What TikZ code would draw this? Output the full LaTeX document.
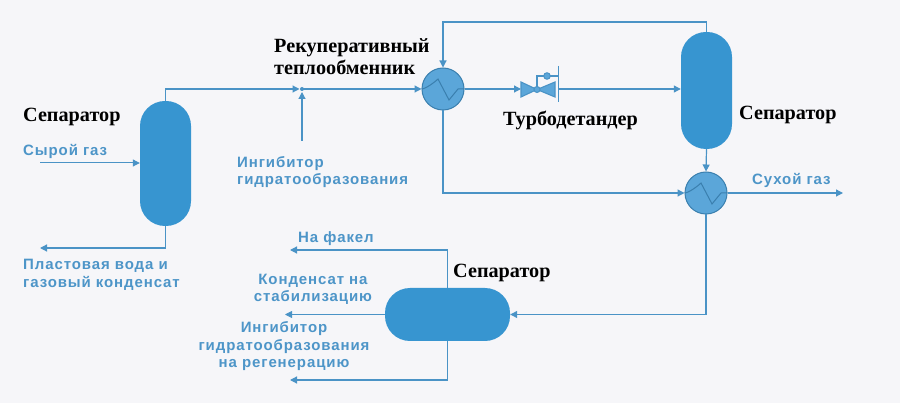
\documentclass[tikz,border=0pt]{standalone}
\usepackage{fontspec}
\setmainfont{Liberation Serif}
\newfontfamily\blfont[LetterSpace=6]{Liberation Sans}
\usetikzlibrary{arrows.meta,calc}
\definecolor{bgc}{HTML}{F6F6F9}
\definecolor{linec}{HTML}{4A93C6}
\definecolor{sepc}{HTML}{3795D0}
\definecolor{hxf}{HTML}{5BA6D9}
\definecolor{hxd}{HTML}{3A7FAE}
\definecolor{txtc}{HTML}{4D95C8}
\tikzset{
  x=1pt,y=-1pt,
  vessel/.style={fill=sepc,draw=none,rounded corners=25pt,inner sep=0pt},
  hx/.style={circle,fill=hxf,draw=hxd,line width=1pt,minimum size=42pt,inner sep=0pt},
  flow/.style={draw=linec,line width=1.2pt,-{Triangle[length=7pt,width=7pt]}},
  bluelabel/.style={text=txtc,font=\blfont\bfseries\fontsize{15}{17.5}\selectfont,align=center,inner sep=0pt},
  blacklabel/.style={text=black,font=\bfseries\fontsize{20.2}{22}\selectfont,align=left,inner sep=0pt},
  valvepart/.style={fill=hxf,draw=linec,line width=1.1pt},
}
\begin{document}
\begin{tikzpicture}
\path[fill=bgc] (0,0) rectangle (900,403);
\useasboundingbox (0,0) rectangle (900,403);
% vessels
\node[vessel,minimum width=51pt,minimum height=125pt] (sepL) at (165.5,163.5) {};
\node[vessel,minimum width=51pt,minimum height=117pt] (sepR) at (706.5,90.5) {};
\node[vessel,minimum width=125pt,minimum height=53pt] (sepB) at (447.5,314.5) {};
% heat exchangers
\node[hx] (hxA) at (443,89) {};
\node[hx] (hxB) at (706,193) {};
\draw[hxd,line width=1pt] (hxA.west) .. controls +(4,0) and +(-3,3) .. ($(hxA)+(-5,-10)$) -- ($(hxA)+(6,11)$) -- ($(hxA)+(15,0)$) -- (hxA.east);
\draw[hxd,line width=1pt] (hxB.west) .. controls +(4,0) and +(-3,3) .. ($(hxB)+(-5,-10)$) -- ($(hxB)+(6,11)$) -- ($(hxB)+(15,0)$) -- (hxB.east);
% free ends
\coordinate (rawIn) at (40,163);
\coordinate (waterOut) at (40,248);
\coordinate (mix) at (302,89);
\coordinate (inhIn) at (302,141);
\coordinate (topTurn) at (443,22);
\coordinate (dryOut) at (843,193);
\coordinate (flare) at (290,250);
\coordinate (cond) at (285,314.5);
\coordinate (inhOut) at (290,380);
\coordinate (valveL) at (521,89);
\coordinate (valveC) at (537,89.5);
\coordinate (valveR) at (558.5,89);
\coordinate (actr) at (547,76);
% flows
\draw[flow,line width=1pt] (rawIn) -- (rawIn -| sepL.west);
\draw[flow] (sepL.south) |- (waterOut);
\draw[flow,shorten >=2.5pt] (sepL.north) |- (mix);
\fill[linec] (mix) circle (2pt);
\draw[flow,shorten >=3pt] (inhIn) -- (mix);
\draw[flow] (mix) -- (hxA.west);
\draw[flow] (sepR.north) |- (topTurn) -- (hxA.north);
\draw[flow] (hxA.east) -- (valveL);
\draw[flow] (valveR) -- (valveR -| sepR.west);
\draw[flow] (hxA.south) |- (hxB.west);
\draw[flow] (sepR.south) -- (hxB.north);
\draw[flow] (hxB.east) -- (dryOut);
\draw[flow] (hxB.south) |- (sepB.east);
\draw[flow] (sepB.north) |- (flare);
\draw[flow,line width=.8pt] (sepB.west) -- (cond);
\draw[flow] (sepB.south) |- (inhOut);
% turboexpander
\draw[valvepart] (521,82) -- (521,97) -- (valveC) -- cycle;
\draw[valvepart] (555,82) -- (555,97) -- (valveC) -- cycle;
\draw[linec,line width=1.1pt] (valveC) -- (537,76) -- (actr) -- (558.5,76);
\node[circle,fill=hxf,draw=linec,line width=1pt,minimum size=6pt,inner sep=0pt] (valveBall) at (valveC) {};
\node[circle,fill=hxf,draw=linec,line width=1pt,minimum size=6.5pt,inner sep=0pt] (actBall) at (actr) {};
\draw[linec,line width=1.2pt] (558.5,66) -- (558.5,102);
% black labels
\node[blacklabel,anchor=west] (t1) at (23,117) {Сепаратор};
\node[blacklabel,anchor=west] (t2) at (274,56.5) {Рекуперативный\\теплообменник};
\node[blacklabel,anchor=west] (t3) at (503,120) {Турбодетандер};
\node[blacklabel,anchor=west] (t4) at (739,115) {Сепаратор};
\node[blacklabel,anchor=west] (t5) at (453,273) {Сепаратор};
% blue labels
\node[bluelabel,anchor=west] (b1) at (23,151.5) {Сырой газ};
\node[bluelabel,anchor=west,align=left] (b2) at (237,172) {Ингибитор\\гидратообразования};
\node[bluelabel,anchor=west,align=left] (b3) at (23,275) {Пластовая вода и\\газовый конденсат};
\node[bluelabel,anchor=west] (b4) at (752,180.5) {Сухой газ};
\node[bluelabel,anchor=west] (b5) at (298,238.5) {На факел};
\node[bluelabel] (b6) at (313,289.5) {Конденсат на\\стабилизацию};
\node[bluelabel] (b7) at (284,346.5) {Ингибитор\\гидратообразования\\на регенерацию};
\end{tikzpicture}
\end{document}
